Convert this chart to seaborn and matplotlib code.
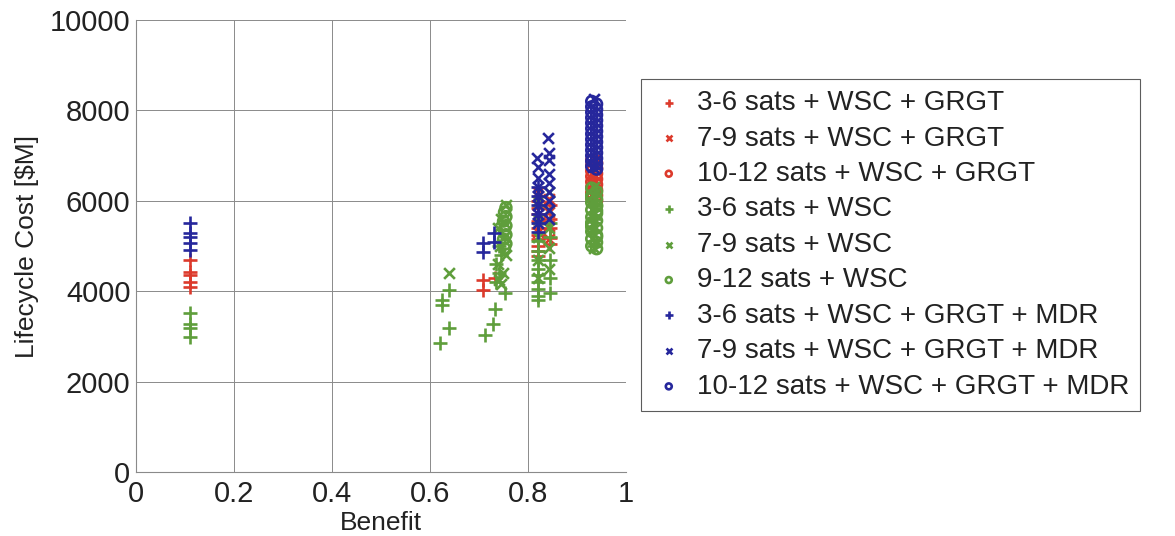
import numpy as np
import pandas as pd
import matplotlib
matplotlib.use("Agg")
import matplotlib.pyplot as plt
import seaborn as sns

# ---------------- data ----------------
labels = [
    "3-6 sats + WSC + GRGT",
    "7-9 sats + WSC + GRGT",
    "10-12 sats + WSC + GRGT",
    "3-6 sats + WSC",
    "7-9 sats + WSC",
    "9-12 sats + WSC",
    "3-6 sats + WSC + GRGT + MDR",
    "7-9 sats + WSC + GRGT + MDR",
    "10-12 sats + WSC + GRGT + MDR",
]

# red +
red_plus_x = [0.11, 0.11, 0.11, 0.11, 0.11,
              0.708, 0.708, 0.733,
              0.82, 0.82, 0.82, 0.82, 0.82, 0.82, 0.82, 0.82, 0.82, 0.82,
              0.845, 0.845, 0.845, 0.845, 0.845,
              0.935, 0.935]
red_plus_y = [4690, 4420, 4360, 4200, 4090,
              4250, 4030, 4290,
              6000, 5850, 5700, 5550, 5400, 5250, 5150, 5000, 4900, 4780,
              5900, 5600, 5400, 5180, 5050,
              6500, 6250]
# red x
red_x_x = [0.82, 0.843, 0.82, 0.843, 0.82, 0.843, 0.82, 0.843,
           0.935, 0.938, 0.932, 0.935]
red_x_y = [6200, 6050, 5900, 5750, 5600, 5450, 5300, 5150,
           6900, 6850, 6400, 6100]
# red o
red_o_x = [0.930, 0.940, 0.930, 0.940, 0.930, 0.940, 0.930, 0.940,
           0.930, 0.940, 0.930, 0.940, 0.930, 0.940, 0.930, 0.940]
red_o_y = [6900, 6840, 6780, 6720, 6660, 6600, 6540, 6480,
           6420, 6360, 6300, 6240, 6180, 6120, 6060, 6000]

# green +
green_plus_x = [0.11, 0.11, 0.11, 0.11,
                0.620, 0.639, 0.624, 0.624, 0.639,
                0.712, 0.729, 0.733, 0.753,
                0.735, 0.74, 0.735, 0.745, 0.74,
                0.82, 0.82, 0.82, 0.82, 0.82, 0.82, 0.82, 0.82, 0.82,
                0.845, 0.845, 0.845, 0.845, 0.845,
                0.935, 0.935, 0.935, 0.935]
green_plus_y = [3520, 3270, 3190, 2990,
                2850, 3180, 3800, 3690, 4020,
                3030, 3270, 3600, 3960,
                4200, 4400, 4600, 4800, 5000,
                3800, 3900, 4050, 4200, 4350, 4500, 4700, 4900, 5100,
                3950, 4300, 4700, 5200, 5500,
                5000, 5300, 5600, 5900]
# green x
green_x_x = [0.639,
             0.755, 0.745, 0.738, 0.75, 0.742, 0.755, 0.738, 0.748, 0.74, 0.745,
             0.843, 0.82, 0.843, 0.82, 0.843, 0.82, 0.843, 0.82, 0.843, 0.82,
             0.935, 0.938, 0.935]
green_x_y = [4400,
             5900, 5600, 5400, 5200, 5000, 4800, 4600, 4400, 4250, 4150,
             6200, 6000, 5800, 5600, 5400, 5200, 4950, 4700, 4500, 4300,
             6300, 6200, 4950]
# green o
green_o_x = [0.755, 0.752, 0.755, 0.75, 0.755, 0.752, 0.755, 0.75, 0.755, 0.752,
             0.930, 0.940, 0.930, 0.940, 0.930, 0.940, 0.930, 0.940,
             0.930, 0.940, 0.930, 0.940, 0.930, 0.940, 0.930, 0.940,
             0.930, 0.940, 0.930, 0.940, 0.930, 0.940, 0.930, 0.940]
green_o_y = [5850, 5750, 5650, 5550, 5450, 5350, 5250, 5150, 5050, 4950,
             6280, 6200, 6120, 6040, 5960, 5880, 5800, 5720,
             5640, 5560, 5480, 5400, 5320, 5240, 5160, 5080,
             5000, 4940, 5420, 5780, 6060, 5200, 5520, 5900]

# blue +
blue_plus_x = [0.11, 0.11, 0.11, 0.11, 0.11,
               0.708, 0.708, 0.730, 0.730,
               0.82, 0.82, 0.82, 0.82, 0.82, 0.82]
blue_plus_y = [5510, 5290, 5200, 5070, 4910,
               5070, 4870, 5290, 5090,
               5300, 5500, 5700, 5900, 6100, 6300]
# blue x
blue_x_x = [0.840, 0.843, 0.818, 0.843, 0.82, 0.843, 0.82, 0.843, 0.82,
            0.843, 0.82, 0.843, 0.82, 0.843, 0.82, 0.843, 0.82,
            0.935, 0.938, 0.932]
blue_x_y = [7390, 7050, 6950, 6900, 6750, 6600, 6500, 6400, 6300,
            6200, 6100, 6000, 5900, 5800, 5700, 5600, 5500,
            8250, 6800, 6750]
# blue o
blue_o_x = [0.930, 0.940, 0.930, 0.940, 0.930, 0.940, 0.930, 0.940,
            0.930, 0.940, 0.930, 0.940, 0.930, 0.940, 0.930, 0.940,
            0.930, 0.940, 0.930, 0.940, 0.930, 0.940, 0.930, 0.940,
            0.930, 0.940]
blue_o_y = [8200, 8140, 8080, 8020, 7960, 7900, 7840, 7780,
            7720, 7660, 7600, 7540, 7480, 7420, 7360, 7300,
            7240, 7180, 7120, 7060, 7000, 6940, 6880, 6820,
            6760, 6700]

xs = [red_plus_x, red_x_x, red_o_x, green_plus_x, green_x_x, green_o_x,
      blue_plus_x, blue_x_x, blue_o_x]
ys = [red_plus_y, red_x_y, red_o_y, green_plus_y, green_x_y, green_o_y,
      blue_plus_y, blue_x_y, blue_o_y]

x_ticks = [0, 0.2, 0.4, 0.6, 0.8, 1.0]
x_tick_labels = ["0", "0.2", "0.4", "0.6", "0.8", "1"]
y_ticks = [0, 2000, 4000, 6000, 8000, 10000]

# ---------------- styles ----------------
RED = "#dc3a2c"
GREEN = "#5f9e3c"
BLUE = "#26279c"
colors = [RED, RED, RED, GREEN, GREEN, GREEN, BLUE, BLUE, BLUE]
markers = ["+", "x", "o"] * 3

sns.set_style("white")
plt.rcParams["font.family"] = ["Liberation Sans", "DejaVu Sans"]

fig = plt.figure(figsize=(11.75, 5.36), dpi=100)
ax = fig.add_axes([136 / 1175, 1 - 472 / 536, 490 / 1175, 452 / 536])

for lab, x, y, c, m in zip(labels, xs, ys, colors, markers):
    df = pd.DataFrame({"Benefit": x, "Cost": y})
    if m == "o":
        sns.scatterplot(data=df, x="Benefit", y="Cost", ax=ax, marker="o",
                        s=60, facecolors="none", edgecolors=c,
                        linewidth=1.9, label=lab, zorder=3)
    else:
        sns.scatterplot(data=df, x="Benefit", y="Cost", ax=ax, marker=m,
                        s=90 if m == "+" else 60, color=c,
                        linewidth=1.9, label=lab, zorder=3)

ax.set_xlim(0, 1)
ax.set_ylim(0, 10000)
ax.set_xticks(x_ticks)
ax.set_xticklabels(x_tick_labels)
ax.set_yticks(y_ticks)
ax.grid(True, color="#8a8a8a", linewidth=0.7)
ax.set_axisbelow(True)
for s in ["top", "right"]:
    ax.spines[s].set_visible(False)
for s in ["left", "bottom"]:
    ax.spines[s].set_color("#8a8a8a")
    ax.spines[s].set_linewidth(0.8)
ax.tick_params(axis="both", direction="in", length=3, labelsize=21,
               colors="#222222")
ax.tick_params(axis="x", pad=6)
ax.tick_params(axis="y", pad=4)
ax.set_xlabel("Benefit", fontsize=19, color="#222222", labelpad=2)
ax.set_ylabel("Lifecycle Cost [$M]", fontsize=19, color="#222222", labelpad=8)

handles, labs = ax.get_legend_handles_labels()
leg = ax.legend(handles, labs, loc="upper left",
                bbox_to_anchor=(641 / 1175, 1 - 79 / 536),
                bbox_transform=fig.transFigure, borderaxespad=0,
                fontsize=20, markerscale=0.55, frameon=True, fancybox=False,
                edgecolor="#333333", labelspacing=0.34, handletextpad=0.4,
                borderpad=0.4, handlelength=1.2)
leg.get_frame().set_linewidth(0.8)
for t in leg.get_texts():
    t.set_color("#222222")

fig.savefig("out.png", dpi=100)
